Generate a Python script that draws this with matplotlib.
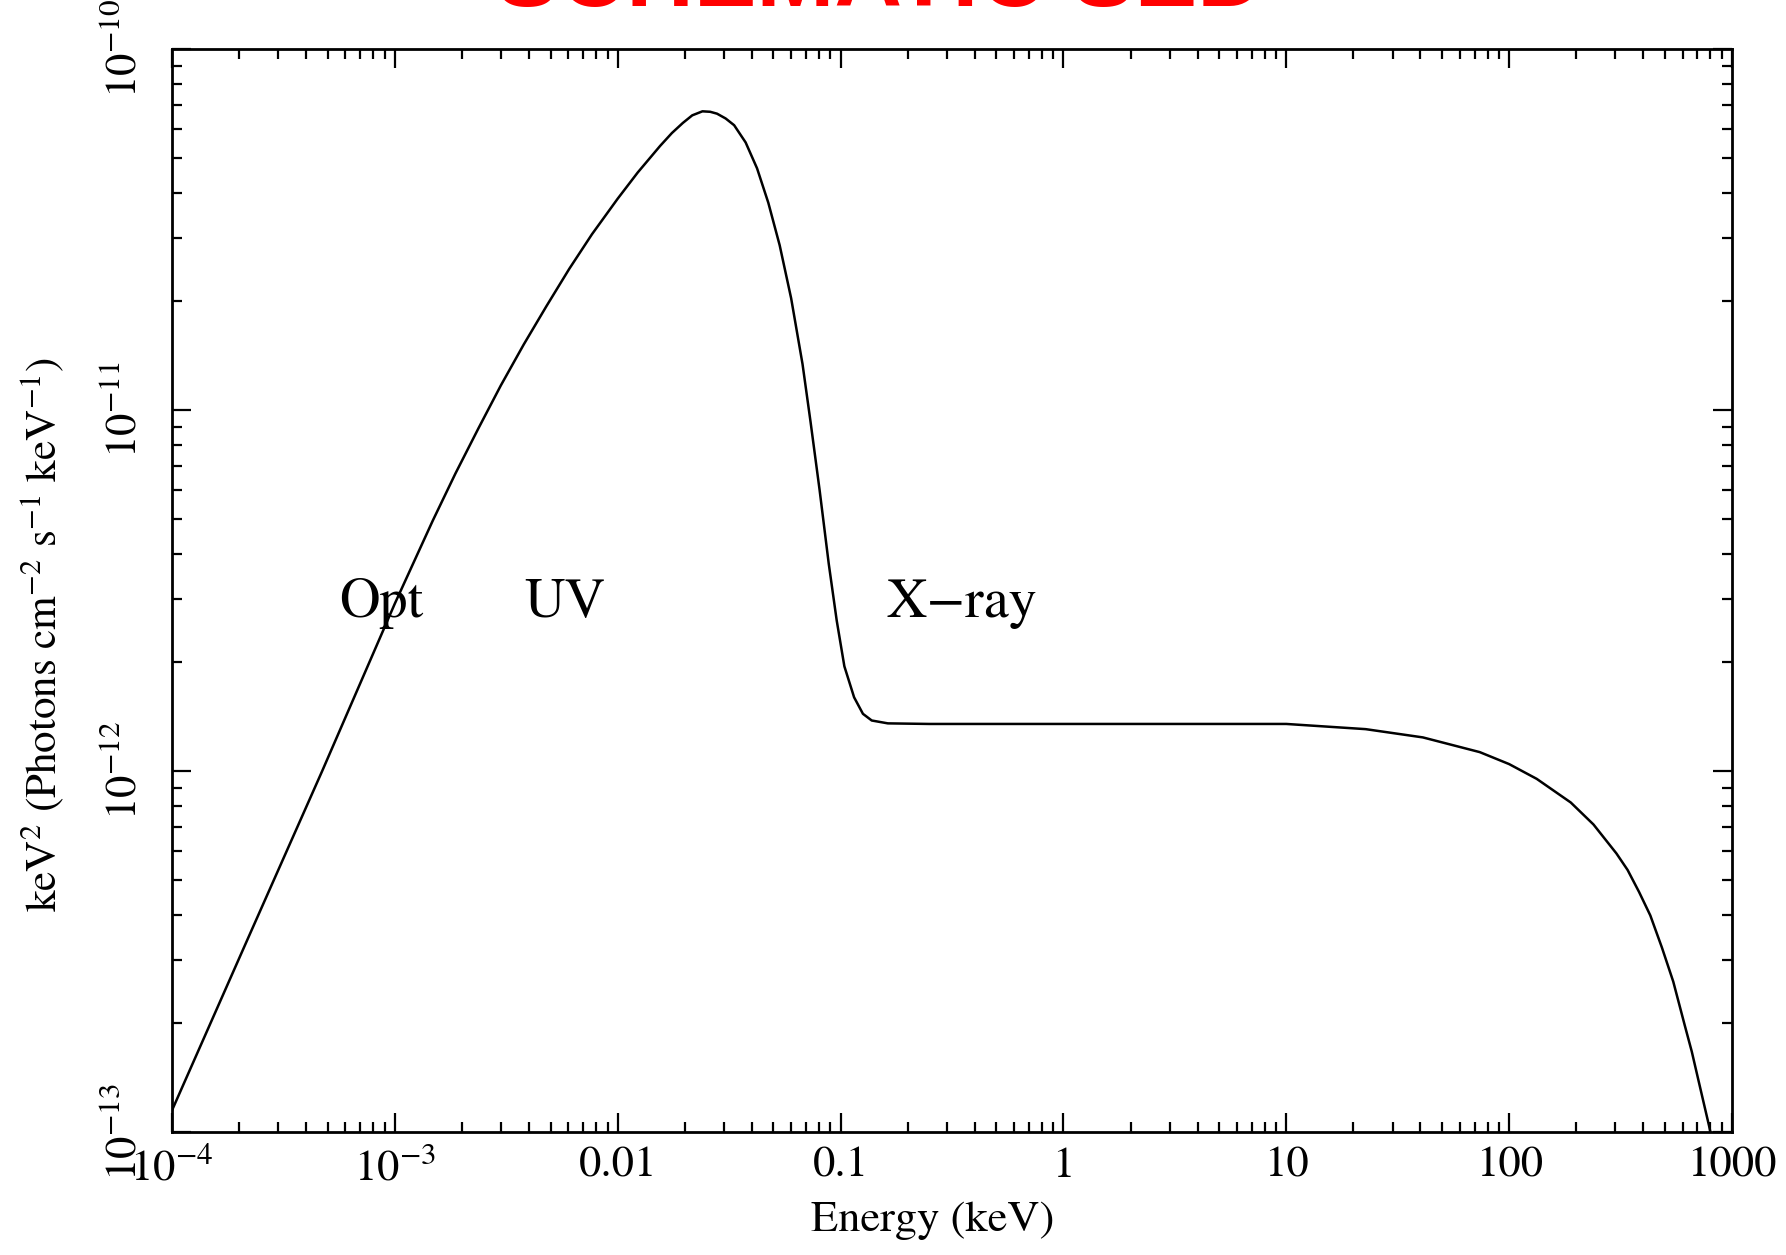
import matplotlib
matplotlib.use("Agg")
import matplotlib.pyplot as plt
from matplotlib.ticker import LogLocator, FixedLocator, FixedFormatter, NullFormatter

plt.rcParams['mathtext.fontset'] = 'stix'
plt.rcParams['font.family'] = ['STIXGeneral', 'Liberation Serif', 'DejaVu Serif']

# Data (energy in keV, E^2 F in keV^2 photons cm^-2 s^-1 keV^-1)
energy = [1.0e-4, 2.17e-4, 4.72e-4, 1.0e-3, 1.48e-3, 1.87e-3, 2.37e-3, 2.99e-3,
          3.79e-3, 4.79e-3, 6.06e-3, 7.67e-3, 1.0e-2, 1.23e-2, 1.55e-2, 1.75e-2,
          1.96e-2, 2.16e-2, 2.40e-2, 2.60e-2, 2.79e-2, 3.05e-2, 3.33e-2, 3.75e-2,
          4.22e-2, 4.74e-2, 5.33e-2, 6.00e-2, 6.75e-2, 7.33e-2, 8.05e-2, 8.85e-2,
          9.61e-2, 0.104, 0.115, 0.126, 0.138, 0.163, 0.25,
          1.0, 10.0, 22.7, 41.0, 73.8, 100.0, 133.0, 189.0, 239.0, 303.0, 340.0,
          383.0, 430.0, 485.0, 545.0, 613.0, 660.0, 711.0, 789.0, 850.0]
flux = [1.148e-13, 3.39e-13, 1.0e-12, 2.91e-12, 4.94e-12, 6.67e-12, 8.89e-12, 1.17e-11,
        1.52e-11, 1.94e-11, 2.46e-11, 3.07e-11, 3.85e-11, 4.55e-11, 5.39e-11, 5.85e-11,
        6.24e-11, 6.55e-11, 6.72e-11, 6.70e-11, 6.62e-11, 6.42e-11, 6.15e-11, 5.51e-11,
        4.67e-11, 3.75e-11, 2.86e-11, 2.04e-11, 1.34e-11, 9.29e-12, 6.01e-12, 3.75e-12,
        2.61e-12, 1.95e-12, 1.60e-12, 1.44e-12, 1.38e-12, 1.355e-12, 1.35e-12,
        1.35e-12, 1.35e-12, 1.306e-12, 1.239e-12, 1.128e-12, 1.045e-12, 9.51e-13,
        8.18e-13, 7.11e-13, 5.91e-13, 5.32e-13, 4.62e-13, 3.98e-13, 3.24e-13,
        2.61e-13, 1.98e-13, 1.67e-13, 1.37e-13, 1.04e-13, 8.4e-14]

xtick_vals = [1e-4, 1e-3, 1e-2, 1e-1, 1, 10, 100, 1000]
xtick_labels = [r"$10^{-4}$", r"$10^{-3}$", "0.01", "0.1", "1", "10", "100", "1000"]
ytick_vals = [1e-13, 1e-12, 1e-11, 1e-10]
ytick_labels = [r"$10^{-13}$", r"$10^{-12}$", r"$10^{-11}$", r"$10^{-10}$"]

band_names = ["Opt", "UV", "X\u2212ray"]
band_pos = [0.107, 0.2256, 0.4577]

title_text = "SCHEMATIC SED"
xlabel_text = "Energy (keV)"
ylabel_text = r"keV$^2$ (Photons cm$^{-2}$ s$^{-1}$ keV$^{-1}$)"

fig = plt.figure(figsize=(17.86, 12.55), dpi=100)
ax = fig.add_axes([172/1786, 1-1132/1255, (1732-172)/1786, (1132-49)/1255])

ax.plot(energy, flux, color='black', lw=1.8, solid_joinstyle='round')
ax.set_xscale('log')
ax.set_yscale('log')
ax.set_xlim(1e-4, 1000)
ax.set_ylim(1e-13, 1e-10)

ax.xaxis.set_major_locator(FixedLocator(xtick_vals))
ax.xaxis.set_major_formatter(FixedFormatter(xtick_labels))
ax.xaxis.set_minor_locator(LogLocator(base=10, subs=range(2, 10), numticks=50))
ax.xaxis.set_minor_formatter(NullFormatter())
ax.yaxis.set_major_locator(FixedLocator(ytick_vals))
ax.yaxis.set_major_formatter(FixedFormatter(ytick_labels))
ax.yaxis.set_minor_locator(LogLocator(base=10, subs=range(2, 10), numticks=50))
ax.yaxis.set_minor_formatter(NullFormatter())

for s in ax.spines.values():
    s.set_linewidth(2.0)

ax.tick_params(which='both', direction='in', top=True, right=True, width=1.6)
ax.tick_params(which='major', length=13.5)
ax.tick_params(which='minor', length=7)
ax.tick_params(axis='x', which='major', labelsize=32, pad=11)
ax.tick_params(axis='y', which='major', labelsize=32, pad=20)
for lab in ax.get_yticklabels():
    lab.set_rotation(90)
    lab.set_va('center')

for name, xp in zip(band_names, band_pos):
    ax.text(xp, 0.4755, name, transform=ax.transAxes, fontsize=40.5,
            ha='left', va='baseline')

fig.text(933/1786, 1-1221/1255, xlabel_text, fontsize=32, ha='center', va='center')
fig.text(42/1786, 1-634/1255, ylabel_text, fontsize=31, ha='center', va='center',
         rotation=90)
fig.text(880/1786, 1-6/1255, title_text, fontsize=67.5, color='red',
         fontweight='bold', family='Liberation Sans', ha='center', va='baseline')

fig.savefig("out.png", dpi=100)
